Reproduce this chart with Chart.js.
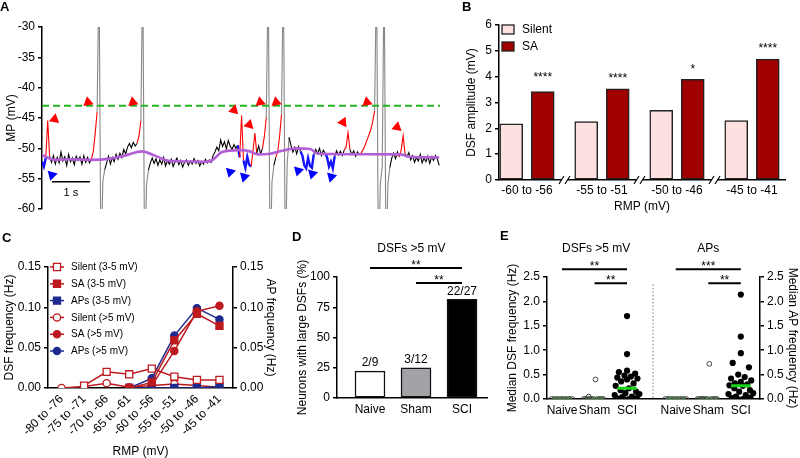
<!DOCTYPE html>
<html>
<head>
<meta charset="utf-8">
<title>DSF figure</title>
<script src="https://cdn.jsdelivr.net/npm/chart.js@4.4.1/dist/chart.umd.min.js"></script>
<style>
  body { margin: 0; background: #fff; }
  #fig { position: relative; width: 800px; height: 458px; overflow: hidden; font-family: "Liberation Sans", Arial, sans-serif; }
  #fig canvas { position: absolute; left: 0; top: 0; }
  .tag { position: absolute; font-weight: bold; font-size: 13px; line-height: 13px; }
</style>
</head>
<body>
<div id="fig">
  <canvas id="chartA" width="800" height="458"></canvas>
  <canvas id="chartB" width="800" height="458"></canvas>
  <canvas id="chartC" width="800" height="458"></canvas>
  <canvas id="chartD" width="800" height="458"></canvas>
  <canvas id="chartE" width="800" height="458"></canvas>
  <div class="tag" style="left:0px;top:0px">A</div>
  <div class="tag" style="left:462px;top:0px">B</div>
  <div class="tag" style="left:2px;top:231px">C</div>
  <div class="tag" style="left:292px;top:230px">D</div>
  <div class="tag" style="left:500px;top:229px">E</div>
</div>
<script>
// ---- A: membrane potential trace (sampled every DT seconds) ----
var DT = 0.05;
var mpTrace = [
  -52.2, -53.0, -51.6, -45.4, -51.3, -52.3, -51.2, -52.6, -51.5, -52.4,
  -50.6, -52.1, -51.4, -52.8, -51.0, -52.2, -51.6, -52.7, -51.3, -52.0,
  -51.4, -52.6, -51.2, -52.3, -51.5, -52.4, -51.8, -50.5, -47.5, -44.0,
  -20, -70, -55.5, -53.5, -52.4, -51.3, -52.6, -51.5, -52.2, -51.0,
  -51.8, -50.8, -51.5, -50.2, -50.9, -49.8, -49.2, -49.9, -49.0, -49.6,
  -49.2, -48.0, -45.5, -20, -70, -56.0, -53.6, -52.4, -51.6, -52.5,
  -51.7, -52.8, -51.9, -52.6, -51.5, -52.9, -52.0, -52.6, -51.8, -53.0,
  -52.2, -51.6, -52.7, -52.0, -53.1, -52.3, -51.9, -52.8, -52.1, -52.6,
  -51.7, -52.5, -52.0, -52.9, -52.2, -52.6, -51.8, -52.4, -51.9, -52.3,
  -51.2, -50.6, -49.8, -50.4, -48.6, -49.7, -48.9, -50.1, -48.7, -49.6,
  -50.2, -49.4, -50.0, -49.5, -51.5, -44.6, -52.0, -53.2, -51.4, -52.7,
  -53.0, -50.5, -47.5, -50.8, -49.6, -50.9, -50.0, -48.0, -45.0, -20,
  -70, -55.5, -52.8, -51.5, -50.6, -48.0, -44.5, -20, -70, -52.5,
  -48.2, -49.5, -50.6, -49.8, -50.9, -49.7, -50.5, -51.2, -52.8, -53.3,
  -51.6, -52.9, -53.2, -51.0, -50.2, -50.9, -50.0, -51.2, -50.3, -50.8,
  -51.5, -53.0, -52.2, -53.3, -51.3, -50.4, -51.1, -50.5, -51.2, -50.3,
  -49.8, -47.4, -50.2, -51.0, -50.4, -51.3, -50.6, -51.1, -50.7, -50.2,
  -49.5, -48.6, -47.8, -46.9, -45.6, -43.8, -20, -70, -56.0, -53.0,
  -20, -70, -55.8, -53.2, -51.6, -50.8, -51.7, -50.6, -51.4, -50.2,
  -47.9, -50.9, -51.4, -50.7, -51.9, -51.2, -52.3, -51.5, -52.1, -51.0,
  -52.4, -51.6, -52.2, -51.3, -52.5, -51.4, -52.0, -51.2, -51.8, -52.8
];
var apPeaks = [30, 53, 119, 127, 176, 180];
var dsfUp = [[2, 4], [26, 29], [50, 52], [104, 106], [110, 113], [116, 118], [123, 126], [159, 162], [167, 175], [188, 191]];
var dsfDown = [[0, 2], [103, 104], [106, 110], [136, 143], [149, 154]];
var baseT = [0, 0.34, 0.74, 1.26, 1.79, 2.18, 2.63, 2.97, 3.37, 4.29, 4.47, 4.74, 5.21, 5.47, 5.68, 6.0, 6.32, 6.66, 7.05, 7.26, 9.42, 9.68, 10.45];
var baseV = [-51.1, -51.9, -51.8, -51.9, -51.7, -51.2, -50.5, -51.2, -52.1, -52.2, -52.0, -50.6, -50.3, -50.5, -51.0, -50.9, -50.4, -50.0, -50.1, -50.9, -51.0, -51.4, -51.5];
var threshold = -43;
var upArrowT = [0.33, 1.21, 2.39, 5.05, 5.45, 5.74, 6.16, 7.92, 8.55, 9.34];
var upArrowV = [-45.2, -42.4, -42.4, -43.7, -46.1, -42.4, -42.4, -45.7, -42.4, -46.5];
var upArrowTurn = [250, 110, 110, 135, 135, 110, 110, 145, 110, 130];
var downArrowT = [0.26, 4.95, 5.32, 6.74, 7.11, 7.61];
var downArrowV = [-54.4, -53.9, -54.7, -53.7, -54.2, -54.7];
var scaleBarT = [0.26, 1.26];
var scaleBarV = -55.5;

// ---- B: DSF amplitude by RMP ----
var rmpBins = ['-60 to -56', '-55 to -51', '-50 to -46', '-45 to -41'];
var silentAmp = [2.17, 2.26, 2.70, 2.30];
var silentSem = [0.03, 0.10, 0.18, 0.08];
var saAmp = [3.42, 3.53, 3.90, 4.68];
var saSem = [0.28, 0.15, 0.14, 0.16];
var ampStars = ['****', '****', '*', '****'];

// ---- C: DSF / AP frequency by RMP ----
var rmpBinsWide = ['-80 to -76', '-75 to -71', '-70 to -66', '-65 to -61', '-60 to -56', '-55 to -51', '-50 to -46', '-45 to -41'];
var silentSmall = [null, 0.003, 0.020, 0.017, 0.024, 0.014, 0.010, 0.010];
var saSmall = [null, null, null, 0, 0.007, 0.059, 0.092, 0.077];
var apSmall = [null, null, null, 0, 0, 0, 0, 0.002];
var silentLarge = [0, 0.002, 0.006, 0.001, 0.003, 0.005, 0.003, 0.001];
var saLarge = [null, null, null, null, 0.003, 0.046, 0.095, 0.102];
var apLarge = [null, null, null, 0, 0.012, 0.065, 0.099, 0.085];

// ---- D: neurons with large DSFs ----
var groups = ['Naive', 'Sham', 'SCI'];
var largeDsfPct = [22.2, 25.0, 81.5];
var largeDsfCount = ['2/9', '3/12', '22/27'];

// ---- E: median DSF / AP frequency per neuron ----
var naiveDsf = [0, 0, 0, 0, 0, 0, 0, 0, 0];
var shamDsf = [0.40, 0.05, 0, 0, 0, 0, 0, 0, 0, 0, 0, 0];
var sciDsf = [1.70, 0.92, 0.58, 0.55, 0.52, 0.48, 0.46, 0.44, 0.42, 0.40, 0.36, 0.32, 0.27, 0.22, 0.18, 0.15, 0.12, 0.10, 0.08, 0.05, 0.04, 0.02, 0.01, 0, 0, 0, 0];
var naiveAp = [0, 0, 0, 0, 0, 0, 0, 0, 0];
var shamAp = [0.72, 0, 0, 0, 0, 0, 0, 0, 0, 0, 0, 0];
var sciAp = [2.14, 1.28, 0.94, 0.74, 0.65, 0.50, 0.45, 0.42, 0.38, 0.35, 0.32, 0.30, 0.28, 0.27, 0.22, 0.18, 0.15, 0.12, 0.10, 0.08, 0.05, 0.03, 0.02, 0, 0, 0, 0];
var dsfMedian = [0, 0, 0.22];
var apMedian = [0, 0, 0.27];
// horizontal scatter of the dots inside each column (column widths)
var naiveJit = [-0.32, -0.24, -0.16, -0.08, 0, 0.08, 0.16, 0.24, 0.32];
var shamJit = [0.03, -0.18, -0.33, -0.27, -0.21, -0.15, -0.09, -0.03, 0.09, 0.15, 0.21, 0.27];
var sciJit = [0, 0, 0, -0.25, 0.25, -0.08, 0.12, -0.3, 0.32, 0, -0.18, 0.2, -0.35, 0.06, -0.2, 0.28, -0.05, 0.38, -0.38, 0.15, -0.15, 0.3, -0.28, -0.1, 0.06, 0.22, -0.22];

Chart.defaults.font.family = '"Liberation Sans", Arial, sans-serif';
Chart.defaults.font.size = 12;
Chart.defaults.color = '#000';
Chart.defaults.animation = false;
Chart.defaults.plugins.legend.display = false;
Chart.defaults.plugins.tooltip.enabled = false;

function vAxis(min, max, step, title, width, pos, fmt) {
  var ax = {
    position: pos || 'left',
    min: min, max: max,
    ticks: { stepSize: step, padding: 3 },
    border: { color: '#000', width: 1.5 },
    grid: { drawOnChartArea: false, tickLength: 4, color: '#000', lineWidth: 1.5 },
    title: { display: true, text: title, padding: 0 },
    afterFit: function (s) { s.width = width; }
  };
  if (fmt) ax.ticks.callback = fmt;
  return ax;
}
var noGrid = { display: false, drawTicks: false, tickLength: 0 };
function pts(xs, ys) { return xs.map(function (x, i) { return { x: x, y: ys[i] }; }); }
function byIndex(ys) { return ys.map(function (y, i) { return { x: i, y: y }; }); }
function inRanges(ranges, a, b) { return ranges.some(function (r) { return a >= r[0] && b <= r[1]; }); }
function text(c, s, x, y, size, align, base, bold) {
  c.font = (bold ? 'bold ' : '') + size + 'px "Liberation Sans", Arial, sans-serif';
  c.textAlign = align || 'center';
  c.textBaseline = base || 'middle';
  c.fillStyle = '#000';
  c.fillText(s, x, y);
}

// ---------------- A ----------------
new Chart(document.getElementById('chartA'), {
  type: 'line',
  data: {
    datasets: [
      { data: [{ x: scaleBarT[0], y: scaleBarV }, { x: scaleBarT[1], y: scaleBarV }], borderColor: '#000', borderWidth: 1.5, pointRadius: 0, order: 0 },
      { data: pts(upArrowT, upArrowV), showLine: false, pointStyle: 'triangle', pointRadius: 6, pointRotation: upArrowTurn, pointBackgroundColor: '#ff0000', pointBorderWidth: 0, order: 0 },
      { data: pts(downArrowT, downArrowV), showLine: false, pointStyle: 'triangle', pointRadius: 6, pointRotation: 315, pointBackgroundColor: '#0000ff', pointBorderWidth: 0, order: 0 },
      { data: [{ x: 0, y: threshold }, { x: 10.47, y: threshold }], borderColor: '#22b422', borderWidth: 2, borderDash: [7, 4], pointRadius: 0, order: 1 },
      { data: pts(baseT, baseV), borderColor: '#b25fd6', borderWidth: 2.6, pointRadius: 0, cubicInterpolationMode: 'monotone', order: 2 },
      {
        data: mpTrace.map(function (v, i) { return { x: i * DT, y: v }; }),
        borderColor: '#000', borderWidth: 1.1, pointRadius: 0, order: 3,
        segment: {
          borderColor: function (ctx) {
            var a = ctx.p0DataIndex, b = ctx.p1DataIndex;
            if (apPeaks.some(function (p) { return a >= p - 1 && a <= p + 2; })) return '#888';
            if (inRanges(dsfUp, a, b)) return '#ff0000';
            if (inRanges(dsfDown, a, b)) return '#1414ff';
            return '#000';
          },
          borderWidth: function (ctx) {
            return inRanges(dsfDown, ctx.p0DataIndex, ctx.p1DataIndex) ? 2.4 : 1.1;
          }
        }
      }
    ]
  },
  options: {
    responsive: false, devicePixelRatio: 1,
    layout: { autoPadding: false, padding: { left: 4.8, top: 27, right: 360, bottom: 249 } },
    scales: {
      x: { type: 'linear', display: false, min: 0, max: 10.47 },
      y: vAxis(-60, -30, 5, 'MP (mV)', 37.2)
    }
  },
  plugins: [{
    id: 'scalebarText',
    afterDatasetsDraw: function (chart) {
      var xs = chart.scales.x, ys = chart.scales.y;
      text(chart.ctx, '1 s', xs.getPixelForValue((scaleBarT[0] + scaleBarT[1]) / 2), ys.getPixelForValue(scaleBarV) + 11, 11);
    }
  }]
});

// ---------------- B ----------------
var BAR_OFF = 0.21;
new Chart(document.getElementById('chartB'), {
  type: 'bar',
  data: {
    datasets: [
      { label: 'Silent', data: silentAmp.map(function (v, i) { return { x: i - BAR_OFF, y: v }; }), backgroundColor: '#fde0e0', borderColor: '#222', borderWidth: 1.5, borderSkipped: false, barThickness: 23 },
      { label: 'SA', data: saAmp.map(function (v, i) { return { x: i + BAR_OFF, y: v }; }), backgroundColor: '#a00000', borderColor: '#222', borderWidth: 1.5, borderSkipped: false, barThickness: 23 }
    ]
  },
  options: {
    responsive: false, devicePixelRatio: 1,
    datasets: { bar: { grouped: false } },
    layout: { autoPadding: false, padding: { left: 464.8, top: 25, right: 15, bottom: 245 } },
    scales: {
      x: {
        type: 'linear', min: -0.373, max: 3.44, offset: false,
        afterBuildTicks: function (s) { s.ticks = rmpBins.map(function (_, i) { return { value: i }; }); },
        ticks: { autoSkip: false, maxRotation: 0, padding: 3, callback: function (v) { return rmpBins[v]; } },
        grid: noGrid,
        border: { color: '#000', width: 1.5 },
        title: { display: true, text: 'RMP (mV)', padding: 0, font: { lineHeight: 1 } },
        afterFit: function (s) { s.height = 33; }
      },
      y: vAxis(0, 6, 1, 'DSF amplitude (mV)', 34.2)
    }
  },
  plugins: [{
    id: 'ampExtras',
    afterDraw: function (chart) {
      var c = chart.ctx, xs = chart.scales.x, ys = chart.scales.y, a = chart.chartArea;
      c.save();
      c.strokeStyle = '#000'; c.lineWidth = 1.5;
      [[silentAmp, silentSem, -BAR_OFF], [saAmp, saSem, BAR_OFF]].forEach(function (g) {
        g[0].forEach(function (v, i) {
          var x = xs.getPixelForValue(i + g[2]);
          c.beginPath();
          c.moveTo(x, ys.getPixelForValue(v));
          c.lineTo(x, ys.getPixelForValue(v + g[1]));
          c.stroke();
        });
      });
      ampStars.forEach(function (s, i) {
        text(c, s, xs.getPixelForValue(i + BAR_OFF), ys.getPixelForValue(saAmp[i] + saSem[i]) - 3, 12, 'center', 'alphabetic');
      });
      // axis breaks between RMP groups
      for (var k = 0; k < rmpBins.length - 1; k++) {
        var bx = xs.getPixelForValue(k + 0.5);
        c.fillStyle = '#fff';
        c.fillRect(bx - 3, a.bottom - 2, 6, 4);
        c.lineWidth = 1.2;
        [-3, 3].forEach(function (d) {
          c.beginPath(); c.moveTo(bx + d - 2.5, a.bottom + 4); c.lineTo(bx + d + 2.5, a.bottom - 4); c.stroke();
        });
      }
      // legend
      chart.data.datasets.forEach(function (ds, i) {
        var y = a.top + 4 + i * 17;
        c.fillStyle = ds.backgroundColor; c.strokeStyle = '#222'; c.lineWidth = 1.3;
        c.fillRect(a.left + 3, y - 4, 12, 9); c.strokeRect(a.left + 3, y - 4, 12, 9);
        text(c, ds.label, a.left + 23, y + 0.5, 12, 'left');
      });
      c.restore();
    }
  }]
});

// ---------------- C ----------------
var redC = '#bd1a1f', blueC = '#1d2a8e';
function cLine(label, values, color, style, open, axis) {
  return {
    label: label, data: byIndex(values), yAxisID: axis, borderColor: color, borderWidth: 1.5,
    pointStyle: style, pointRadius: style === 'rect' ? 5 : 3.6, pointBorderWidth: 1.3,
    pointBorderColor: color, pointBackgroundColor: open ? '#fff' : color, spanGaps: false
  };
}
new Chart(document.getElementById('chartC'), {
  type: 'line',
  data: {
    datasets: [
      cLine('Silent (3-5 mV)', silentSmall, redC, 'rect', true, 'y'),
      cLine('SA (3-5 mV)', saSmall, redC, 'rect', false, 'y'),
      cLine('APs (3-5 mV)', apSmall, blueC, 'rect', false, 'y2'),
      cLine('Silent (>5 mV)', silentLarge, redC, 'circle', true, 'y'),
      cLine('SA (>5 mV)', saLarge, redC, 'circle', false, 'y'),
      cLine('APs (>5 mV)', apLarge, blueC, 'circle', false, 'y2')
    ]
  },
  options: {
    responsive: false, devicePixelRatio: 1,
    layout: { autoPadding: false, padding: { left: 2.8, top: 267, right: 522.8, bottom: 0 } },
    scales: {
      x: {
        type: 'linear', min: -0.6, max: 7.6,
        afterBuildTicks: function (s) { s.ticks = rmpBinsWide.map(function (_, i) { return { value: i }; }); },
        ticks: { autoSkip: false, minRotation: 45, maxRotation: 45, padding: 4, callback: function (v) { return rmpBinsWide[v]; } },
        grid: noGrid,
        border: { color: '#000', width: 1.5 },
        title: { display: true, text: 'RMP (mV)', padding: 0, font: { lineHeight: 1 } },
        afterFit: function (s) { s.height = 70; }
      },
      y: vAxis(0, 0.15, 0.05, 'DSF frequency (Hz)', 45.2, 'left', function (v) { return v.toFixed(2); }),
      y2: vAxis(0, 0.15, 0.05, 'AP frequency (Hz)', 44.2, 'right', function (v) { return v.toFixed(2); })
    }
  },
  plugins: [{
    id: 'freqLegend',
    afterDraw: function (chart) {
      var c = chart.ctx, a = chart.chartArea;
      c.save();
      chart.data.datasets.forEach(function (ds, i) {
        var y = a.top + i * 16.8, x0 = a.left + 2;
        c.strokeStyle = ds.borderColor; c.lineWidth = 1.5;
        c.beginPath(); c.moveTo(x0, y); c.lineTo(x0 + 14, y); c.stroke();
        c.fillStyle = ds.pointBackgroundColor; c.lineWidth = 1.3;
        Chart.helpers.drawPoint(c, { pointStyle: ds.pointStyle, radius: ds.pointRadius, rotation: 0, borderWidth: 1.3 }, x0 + 7, y);
        text(c, ds.label, x0 + 21, y + 0.5, 10, 'left');
      });
      c.restore();
    }
  }]
});

// ---------------- D ----------------
new Chart(document.getElementById('chartD'), {
  type: 'bar',
  data: {
    datasets: [{
      data: largeDsfPct.map(function (v, i) { return { x: i, y: v }; }),
      backgroundColor: ['#ffffff', '#a3a3a7', '#000000'], borderColor: '#111', borderWidth: 1.5, borderSkipped: false, barThickness: 30
    }]
  },
  options: {
    responsive: false, devicePixelRatio: 1,
    layout: { autoPadding: false, padding: { left: 295.8, top: 277, right: 313, bottom: 40 } },
    scales: {
      x: {
        type: 'linear', min: -0.717, max: 2.543, offset: false,
        afterBuildTicks: function (s) { s.ticks = groups.map(function (_, i) { return { value: i }; }); },
        ticks: { autoSkip: false, maxRotation: 0, padding: 4, callback: function (v) { return groups[v]; } },
        grid: noGrid,
        border: { color: '#000', width: 1.5 },
        afterFit: function (s) { s.height = 20; }
      },
      y: vAxis(0, 100, 25, 'Neurons with large DSFs (%)', 41.2)
    }
  },
  plugins: [{
    id: 'pctExtras',
    afterDraw: function (chart) {
      var c = chart.ctx, xs = chart.scales.x, ys = chart.scales.y;
      c.save();
      largeDsfCount.forEach(function (s, i) {
        text(c, s, xs.getPixelForValue(i), ys.getPixelForValue(largeDsfPct[i]) - 2, 12, 'center', 'bottom');
      });
      text(c, 'DSFs >5 mV', xs.getPixelForValue(0.9), ys.getPixelForValue(123), 12);
      c.strokeStyle = '#000'; c.lineWidth = 2;
      [[0, 2, 107.5], [1, 2, 95]].forEach(function (s) {
        var y = ys.getPixelForValue(s[2]);
        c.beginPath(); c.moveTo(xs.getPixelForValue(s[0]), y); c.lineTo(xs.getPixelForValue(s[1]), y); c.stroke();
        text(c, '**', (xs.getPixelForValue(s[0]) + xs.getPixelForValue(s[1])) / 2, y + 1, 12, 'center', 'alphabetic');
      });
      c.restore();
    }
  }]
});

// ---------------- E ----------------
var colPos = [1, 2, 3, 4.5, 5.5, 6.5];
function dots(values, jit, pos) { return values.map(function (v, i) { return { x: pos + jit[i], y: v }; }); }
// open rings sit on top of the green median, filled dots below it
function openDots(data) { return { type: 'scatter', data: data, pointRadius: 2.4, pointBorderWidth: 1, pointBorderColor: '#444', pointBackgroundColor: 'rgba(255,255,255,0)', order: -1 }; }
function fullDots(data) { return { type: 'scatter', data: data, pointRadius: 3.1, pointBorderWidth: 0, pointBackgroundColor: '#000', order: 2 }; }
var medianPts = [];
dsfMedian.concat(apMedian).forEach(function (m, i) {
  medianPts.push({ x: colPos[i] - 0.3, y: m }, { x: colPos[i] + 0.3, y: m }, { x: colPos[i] + 0.4, y: null });
});
new Chart(document.getElementById('chartE'), {
  type: 'scatter',
  data: {
    datasets: [
      { type: 'line', data: medianPts, borderColor: '#18d418', borderWidth: 3, pointRadius: 0, spanGaps: false, order: 0 },
      openDots(dots(naiveDsf, naiveJit, colPos[0])),
      openDots(dots(shamDsf, shamJit, colPos[1])),
      fullDots(dots(sciDsf, sciJit, colPos[2])),
      openDots(dots(naiveAp, naiveJit, colPos[3])),
      openDots(dots(shamAp, shamJit, colPos[4])),
      fullDots(dots(sciAp, sciJit, colPos[5]))
    ]
  },
  options: {
    responsive: false, devicePixelRatio: 1,
    layout: { autoPadding: false, padding: { left: 505.8, top: 277, right: 0, bottom: 39 } },
    scales: {
      x: {
        type: 'linear', min: 0.538, max: 7.09,
        afterBuildTicks: function (s) { s.ticks = colPos.map(function (p) { return { value: p }; }); },
        ticks: { autoSkip: false, maxRotation: 0, padding: 4, callback: function (v) { return groups[colPos.indexOf(v) % 3]; } },
        grid: noGrid,
        border: { color: '#000', width: 1.5 },
        afterFit: function (s) { s.height = 20; }
      },
      y: vAxis(0, 2.5, 0.5, 'Median DSF frequency (Hz)', 41.2, 'left', function (v) { return v.toFixed(1); }),
      y2: vAxis(0, 2.5, 0.5, 'Median AP frequency (Hz)', 40, 'right', function (v) { return v.toFixed(1); })
    }
  },
  plugins: [{
    id: 'medianExtras',
    afterDraw: function (chart) {
      var c = chart.ctx, xs = chart.scales.x, ys = chart.scales.y;
      c.save();
      var dx = xs.getPixelForValue(3.8);
      c.strokeStyle = '#777'; c.lineWidth = 1; c.setLineDash([1.5, 2]);
      c.beginPath(); c.moveTo(dx, ys.getPixelForValue(2.35)); c.lineTo(dx, ys.getPixelForValue(0)); c.stroke();
      c.setLineDash([]);
      text(c, 'DSFs >5 mV', xs.getPixelForValue(2.05), ys.getPixelForValue(3.07), 12);
      text(c, 'APs', xs.getPixelForValue(5.5), ys.getPixelForValue(3.07), 12);
      c.strokeStyle = '#000'; c.lineWidth = 2;
      [[1, 3, 2.66, '**'], [2, 3, 2.37, '**'], [4.5, 6.5, 2.66, '***'], [5.5, 6.5, 2.37, '**']].forEach(function (s) {
        var y = ys.getPixelForValue(s[2]);
        c.beginPath(); c.moveTo(xs.getPixelForValue(s[0]), y); c.lineTo(xs.getPixelForValue(s[1]), y); c.stroke();
        text(c, s[3], (xs.getPixelForValue(s[0]) + xs.getPixelForValue(s[1])) / 2, y + 1, 12, 'center', 'alphabetic');
      });
      c.restore();
    }
  }]
});
</script>
</body>
</html>
